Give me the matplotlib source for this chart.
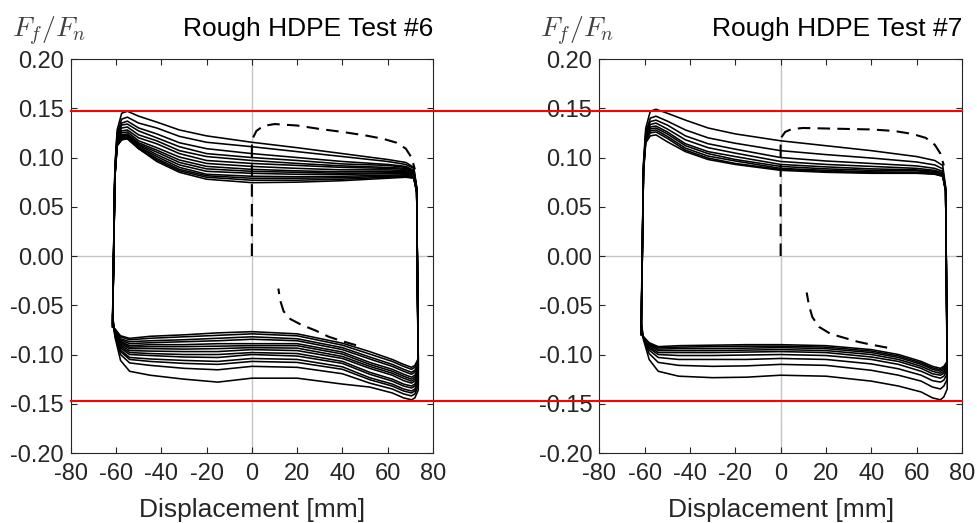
import numpy as np
import matplotlib
matplotlib.use('Agg')
import matplotlib.pyplot as plt
from matplotlib.lines import Line2D
from matplotlib.transforms import blended_transform_factory

plt.rcParams['font.family'] = ['Liberation Sans', 'DejaVu Sans']
plt.rcParams['mathtext.fontset'] = 'cm'
plt.rcParams['axes.unicode_minus'] = False

# displacement stations (mm) of the sweep to the right (upper branch)
up_x = [-61.5, -60.5, -59.5, -57.5, -55, -50, -42, -32, -20, 0, 20, 40, 60, 68, 71.5, 72.8]
# displacement stations of the sweep back to the left (lower branch)
lo_x = [73.5, 72, 70.5, 67, 62, 52, 40, 20, 0, -15, -30, -45, -54, -58, -60.5, -61.5]

# Test #6: friction ratio per cycle on the upper branch, first cycle first
t6_upper = [
    [-0.060, 0.090, 0.128, 0.145, 0.147, 0.142, 0.136, 0.128, 0.122, 0.1155, 0.110, 0.104, 0.098, 0.095, 0.090, 0.070],
    [-0.061, 0.089, 0.125, 0.139, 0.141, 0.135, 0.130, 0.1215, 0.1155, 0.111, 0.106, 0.101, 0.096, 0.093, 0.089, 0.069],
    [-0.063, 0.087, 0.122, 0.135, 0.137, 0.130, 0.124, 0.115, 0.109, 0.104, 0.100, 0.096, 0.093, 0.091, 0.087, 0.069],
    [-0.065, 0.086, 0.121, 0.133, 0.134, 0.127, 0.120, 0.111, 0.104, 0.100, 0.097, 0.0935, 0.092, 0.090, 0.086, 0.068],
    [-0.066, 0.085, 0.119, 0.130, 0.131, 0.123, 0.117, 0.107, 0.101, 0.097, 0.094, 0.0915, 0.090, 0.089, 0.086, 0.068],
    [-0.067, 0.084, 0.117, 0.127, 0.128, 0.120, 0.114, 0.104, 0.097, 0.094, 0.092, 0.090, 0.089, 0.088, 0.085, 0.067],
    [-0.068, 0.083, 0.116, 0.125, 0.126, 0.117, 0.110, 0.1005, 0.094, 0.091, 0.089, 0.0875, 0.0875, 0.0867, 0.084, 0.067],
    [-0.069, 0.082, 0.115, 0.123, 0.124, 0.115, 0.1075, 0.0975, 0.091, 0.088, 0.0865, 0.0855, 0.086, 0.0855, 0.083, 0.066],
    [-0.069, 0.082, 0.114, 0.122, 0.123, 0.1135, 0.1055, 0.095, 0.0885, 0.086, 0.085, 0.084, 0.0845, 0.0845, 0.082, 0.066],
    [-0.070, 0.081, 0.114, 0.121, 0.122, 0.1125, 0.103, 0.0925, 0.086, 0.084, 0.083, 0.083, 0.0835, 0.0835, 0.081, 0.066],
    [-0.071, 0.081, 0.113, 0.120, 0.121, 0.111, 0.101, 0.090, 0.083, 0.081, 0.0805, 0.081, 0.082, 0.0825, 0.080, 0.065],
    [-0.071, 0.080, 0.113, 0.119, 0.120, 0.110, 0.099, 0.088, 0.0815, 0.079, 0.079, 0.0795, 0.081, 0.0815, 0.080, 0.065],
    [-0.072, 0.080, 0.112, 0.118, 0.1195, 0.109, 0.0975, 0.0865, 0.080, 0.077, 0.077, 0.078, 0.080, 0.081, 0.079, 0.065],
    [-0.072, 0.080, 0.112, 0.118, 0.119, 0.109, 0.096, 0.085, 0.078, 0.0745, 0.075, 0.0765, 0.079, 0.080, 0.079, 0.065],
]
t6_lower = [
    [-0.136, -0.144, -0.146, -0.144, -0.139, -0.133, -0.130, -0.124, -0.124, -0.128, -0.125, -0.121, -0.117, -0.106, -0.082, -0.060],
    [-0.132, -0.140, -0.142, -0.140, -0.135, -0.129, -0.1195, -0.113, -0.112, -0.1155, -0.114, -0.111, -0.1085, -0.100, -0.080, -0.061],
    [-0.129, -0.137, -0.139, -0.137, -0.132, -0.1255, -0.115, -0.108, -0.107, -0.110, -0.109, -0.107, -0.105, -0.097, -0.079, -0.063],
    [-0.1275, -0.135, -0.137, -0.135, -0.130, -0.1235, -0.1125, -0.105, -0.104, -0.107, -0.106, -0.1045, -0.103, -0.0955, -0.0785, -0.065],
    [-0.1245, -0.132, -0.134, -0.132, -0.127, -0.120, -0.109, -0.1015, -0.100, -0.103, -0.1025, -0.101, -0.100, -0.0935, -0.078, -0.066],
    [-0.1225, -0.130, -0.132, -0.130, -0.125, -0.118, -0.107, -0.099, -0.098, -0.100, -0.100, -0.099, -0.098, -0.092, -0.0775, -0.067],
    [-0.1195, -0.127, -0.129, -0.1265, -0.121, -0.114, -0.104, -0.096, -0.095, -0.097, -0.097, -0.0965, -0.096, -0.0905, -0.077, -0.068],
    [-0.1175, -0.125, -0.127, -0.124, -0.119, -0.112, -0.102, -0.0935, -0.093, -0.094, -0.0945, -0.094, -0.094, -0.089, -0.0765, -0.069],
    [-0.1155, -0.123, -0.125, -0.122, -0.117, -0.110, -0.0995, -0.091, -0.091, -0.0915, -0.092, -0.092, -0.0925, -0.0875, -0.076, -0.069],
    [-0.1135, -0.121, -0.123, -0.120, -0.115, -0.108, -0.0975, -0.089, -0.089, -0.089, -0.090, -0.090, -0.091, -0.0865, -0.0755, -0.070],
    [-0.111, -0.118, -0.120, -0.117, -0.112, -0.1045, -0.095, -0.086, -0.0845, -0.086, -0.087, -0.088, -0.089, -0.085, -0.075, -0.071],
    [-0.109, -0.116, -0.118, -0.115, -0.110, -0.1025, -0.093, -0.084, -0.082, -0.0835, -0.085, -0.086, -0.087, -0.084, -0.0745, -0.071],
    [-0.106, -0.113, -0.115, -0.112, -0.107, -0.0995, -0.0905, -0.081, -0.079, -0.0805, -0.082, -0.0835, -0.085, -0.082, -0.074, -0.072],
    [-0.104, -0.111, -0.113, -0.110, -0.105, -0.097, -0.0885, -0.079, -0.0768, -0.078, -0.080, -0.0815, -0.0836, -0.081, -0.074, -0.072],
]
# first loading (dashed) and final unloading (dashed) of test #6
t6_start_x = [0, 0, 0.5, 2, 5, 10, 20, 30, 40, 50, 58, 64, 68, 70.5, 72]
t6_start_y = [0, 0.112, 0.120, 0.127, 0.132, 0.134, 0.1325, 0.129, 0.126, 0.1225, 0.119, 0.115, 0.109, 0.100, 0.088]
t6_end_x = [46, 40, 34, 28, 22, 17, 14, 12.5, 11.7]
t6_end_y = [-0.0905, -0.0865, -0.082, -0.0755, -0.070, -0.064, -0.056, -0.045, -0.033]

# Test #7
t7_upper = [
    [-0.065, 0.095, 0.130, 0.147, 0.149, 0.145, 0.138, 0.130, 0.124, 0.117, 0.112, 0.107, 0.101, 0.097, 0.092, 0.070],
    [-0.070, 0.092, 0.126, 0.140, 0.142, 0.137, 0.128, 0.120, 0.1145, 0.107, 0.103, 0.0995, 0.0955, 0.0925, 0.0885, 0.069],
    [-0.072, 0.091, 0.124, 0.1365, 0.138, 0.133, 0.122, 0.114, 0.1085, 0.100, 0.0965, 0.094, 0.0915, 0.089, 0.086, 0.068],
    [-0.075, 0.090, 0.122, 0.1335, 0.135, 0.129, 0.118, 0.110, 0.1045, 0.096, 0.093, 0.091, 0.089, 0.087, 0.0845, 0.067],
    [-0.077, 0.088, 0.120, 0.131, 0.132, 0.126, 0.114, 0.106, 0.101, 0.093, 0.0905, 0.0885, 0.0875, 0.086, 0.083, 0.067],
    [-0.078, 0.088, 0.119, 0.129, 0.130, 0.124, 0.112, 0.104, 0.098, 0.091, 0.0885, 0.087, 0.0865, 0.085, 0.0825, 0.066],
    [-0.0785, 0.087, 0.118, 0.127, 0.128, 0.1215, 0.1095, 0.1015, 0.0965, 0.089, 0.087, 0.0855, 0.085, 0.084, 0.082, 0.066],
    [-0.079, 0.086, 0.117, 0.125, 0.126, 0.1195, 0.1075, 0.0995, 0.094, 0.088, 0.086, 0.0845, 0.0845, 0.0835, 0.081, 0.066],
    [-0.080, 0.085, 0.115, 0.122, 0.123, 0.116, 0.106, 0.098, 0.093, 0.087, 0.085, 0.084, 0.084, 0.083, 0.081, 0.066],
]
t7_lower = [
    [-0.135, -0.143, -0.146, -0.144, -0.138, -0.132, -0.127, -0.122, -0.121, -0.123, -0.1235, -0.122, -0.117, -0.105, -0.085, -0.065],
    [-0.125, -0.132, -0.135, -0.133, -0.127, -0.121, -0.116, -0.111, -0.110, -0.1115, -0.112, -0.111, -0.108, -0.099, -0.084, -0.070],
    [-0.1195, -0.126, -0.128, -0.1265, -0.121, -0.1145, -0.1095, -0.105, -0.104, -0.105, -0.105, -0.105, -0.103, -0.0955, -0.0835, -0.072],
    [-0.116, -0.122, -0.124, -0.122, -0.117, -0.110, -0.105, -0.101, -0.100, -0.1005, -0.101, -0.101, -0.100, -0.0935, -0.083, -0.075],
    [-0.1135, -0.119, -0.121, -0.1195, -0.114, -0.107, -0.1025, -0.098, -0.097, -0.0975, -0.098, -0.098, -0.098, -0.092, -0.083, -0.077],
    [-0.1115, -0.117, -0.119, -0.117, -0.112, -0.105, -0.100, -0.096, -0.095, -0.0955, -0.096, -0.096, -0.096, -0.0907, -0.0825, -0.078],
    [-0.110, -0.115, -0.117, -0.115, -0.110, -0.103, -0.098, -0.094, -0.093, -0.0935, -0.094, -0.094, -0.0945, -0.0897, -0.0825, -0.0785],
    [-0.1085, -0.1135, -0.1155, -0.1135, -0.1085, -0.1015, -0.0965, -0.0925, -0.0915, -0.0915, -0.092, -0.0925, -0.093, -0.0888, -0.082, -0.079],
    [-0.107, -0.112, -0.114, -0.112, -0.107, -0.100, -0.095, -0.091, -0.090, -0.090, -0.0905, -0.091, -0.092, -0.088, -0.082, -0.080],
]
t7_start_x = [0, 0, 0.5, 2, 5, 10, 20, 30, 40, 50, 58, 64, 68, 70.5, 72]
t7_start_y = [0, 0.114, 0.121, 0.126, 0.129, 0.130, 0.1295, 0.129, 0.1285, 0.127, 0.124, 0.120, 0.113, 0.104, 0.092]
t7_end_x = [47, 40, 34, 28, 22, 17, 14, 12.5, 11.5]
t7_end_y = [-0.093, -0.090, -0.087, -0.083, -0.079, -0.072, -0.062, -0.050, -0.037]

mu_limit = 0.1475
titles = ['Rough HDPE Test #6', 'Rough HDPE Test #7']
x_ticks = [-80, -60, -40, -20, 0, 20, 40, 60, 80]
y_ticks = [-0.20, -0.15, -0.10, -0.05, 0.00, 0.05, 0.10, 0.15, 0.20]

txt = '#262626'
fig = plt.figure(figsize=(9.77, 5.23), dpi=100)
ax1 = fig.add_axes([0.0724, 0.1338, 0.3708, 0.7533])
ax2 = fig.add_axes([0.6134, 0.1338, 0.3712, 0.7533])

panels = [
    (ax1, t6_upper, t6_lower, t6_start_x, t6_start_y, t6_end_x, t6_end_y),
    (ax2, t7_upper, t7_lower, t7_start_x, t7_start_y, t7_end_x, t7_end_y),
]
for (ax, upper, lower, sx, sy, ex, ey), title in zip(panels, titles):
    ax.axvline(0, color='#c4c4c4', lw=1.0, zorder=1)
    ax.axhline(0, color='#c4c4c4', lw=1.0, zorder=1)
    for u, l in zip(upper, lower):
        xs = up_x + lo_x + up_x[:1]
        ys = u + l + u[:1]
        ax.plot(xs, ys, color='k', lw=1.15, zorder=3)
    ax.plot(sx, sy, color='k', lw=1.5, ls=(0, (6, 3.5)), zorder=3)
    ax.plot(ex, ey, color='k', lw=1.5, ls=(0, (6, 3.5)), zorder=3)

    ax.set_xlim(-80, 80)
    ax.set_ylim(-0.2, 0.2)
    ax.set_xticks(x_ticks)
    ax.set_yticks(y_ticks)
    ax.set_yticklabels(['%.2f' % v for v in y_ticks])
    ax.tick_params(direction='in', top=True, right=True, length=4, width=0.8,
                   colors=txt, labelsize=17)
    ax.tick_params(axis='x', pad=7)
    ax.tick_params(axis='y', pad=5)
    for s in ax.spines.values():
        s.set_color(txt)
        s.set_linewidth(0.8)
    ax.text(1.0, 1.058, title, transform=ax.transAxes, ha='right',
            va='baseline', fontsize=19, color='k')
    ax.text(-0.163, 1.056, r'$F_f/F_n$', transform=ax.transAxes, ha='left',
            va='baseline', fontsize=20, color='#404040')
    ax.text(0.5, -0.1624, 'Displacement [mm]', transform=ax.transAxes,
            ha='center', va='baseline', fontsize=19, color=txt)

# friction limit lines run across both panels
trans = blended_transform_factory(fig.transFigure, ax1.transData)
for yv in (mu_limit, -mu_limit):
    fig.add_artist(Line2D([0.0724, 0.9846], [yv, yv], transform=trans,
                          color='red', lw=1.5, zorder=5))

fig.savefig('out.png', dpi=100)
